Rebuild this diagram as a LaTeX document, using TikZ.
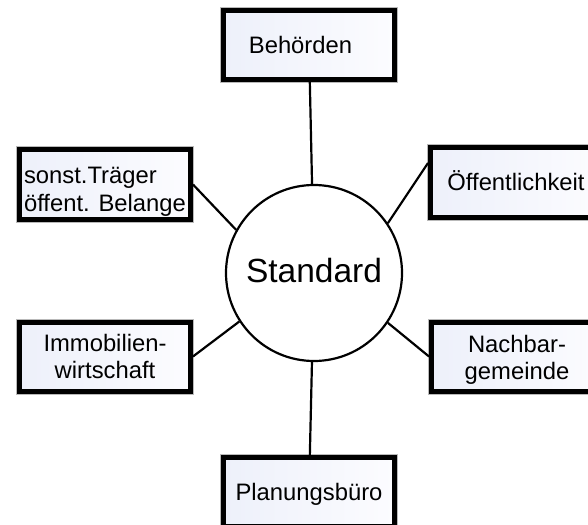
\documentclass[tikz,border=0pt]{standalone}
\usepackage{fontspec}
\setmainfont{Liberation Sans}
\definecolor{boxblue}{RGB}{237,240,250}
\definecolor{boxwhite}{RGB}{252,252,255}
\begin{document}
\begin{tikzpicture}[x=1bp,y=-1bp,
  stakeholder/.style={draw=black, line width=5bp, minimum width=171bp, minimum height=69bp,
    inner sep=0pt, left color=boxblue, right color=boxwhite,
    preaction={draw=gray!55, line width=7bp},
    font=\fontsize{23.8bp}{26.5bp}\selectfont, align=center},
  single/.style={text height=17bp, text depth=0bp},
  hub/.style={circle, draw=black, line width=2.2bp, fill=white, minimum size=176bp,
    inner sep=0pt, font=\fontsize{33.5bp}{40bp}\selectfont, text height=24.5bp, text depth=6bp},
  link/.style={draw=black, line width=2.2bp}]
\useasboundingbox (0,0) rectangle (588,525);
\clip (0,0) rectangle (588,525);
\node[stakeholder,single] (beh) at (309,45) {Behörden\hspace*{17bp}};
\node[stakeholder, align=left, font=\fontsize{23.8bp}{28bp}\selectfont] (sonst) at (105,184.5) {\rule{0pt}{30bp}sonst.Träger\\öffent. Belange};
\node[stakeholder,single] (oef) at (516,182.5) {Öffentlichkeit};
\node[stakeholder] (immo) at (105,356.5) {Immobilien-\\wirtschaft};
\node[stakeholder] (nach) at (517,356.5) {\rule{0pt}{24bp}Nachbar-\\gemeinde};
\node[stakeholder,single] (plan) at (309,492) {Planungsbüro};
\node[hub] (std) at (314,273) {Standard};
\draw[link] (beh) -- (std);
\draw[link] (plan) -- (std);
\draw[link] (sonst.east) -- (std.151);
\draw[link] ([yshift=19.5bp]oef.west) -- (std.34);
\draw[link] (immo.east) -- (std.213);
\draw[link] (nach.west) -- (std.326);
\end{tikzpicture}
\end{document}
